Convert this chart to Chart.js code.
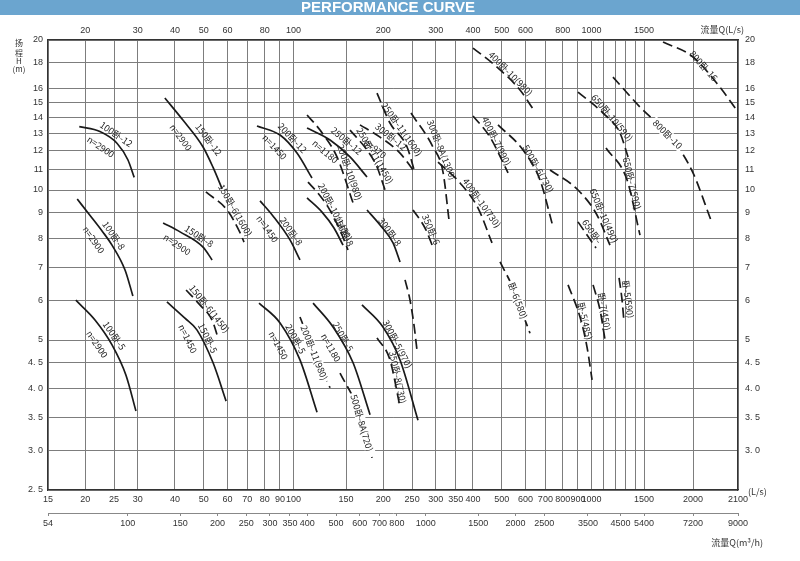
<!DOCTYPE html>
<html>
<head>
<meta charset="utf-8">
<script src="https://cdn.jsdelivr.net/npm/chart.js@4/dist/chart.umd.min.js"></script>
<style>
  html, body { margin: 0; background: #fff; }
</style>
</head>
<body>
<canvas id="c" width="800" height="561"></canvas>
<script>
// 流量 Q (L/s) tick labels, extra grid lines, top labels, m3/h labels
const qTicks = [15, 20, 25, 30, 40, 50, 60, 70, 80, 90, 100, 150, 200, 250, 300, 350, 400, 500, 600, 700, 800, 900, 1000, 1500, 2000, 2100];
const qMinor = [1100, 1200, 1300, 1400];
const qTopTicks = [20, 30, 40, 50, 60, 80, 100, 200, 300, 400, 500, 600, 800, 1000, 1500];
const m3hTicks = [54, 100, 150, 200, 250, 300, 350, 400, 500, 600, 700, 800, 1000, 1500, 2000, 2500, 3500, 4500, 5400, 7200, 9000];
// 扬程 H (m)
const hTicks = [2.5, 3, 3.5, 4, 4.5, 5, 6, 7, 8, 9, 10, 11, 12, 13, 14, 15, 16, 18, 20];
const hLabels = ['2. 5', '3. 0', '3. 5', '4. 0', '4. 5', '5', '6', '7', '8', '9', '10', '11', '12', '13', '14', '15', '16', '18', '20'];

// the printed Q axis is logarithmic up to 1500 L/s and then squeezed to the right edge
const qKnots = [15, 1500, 2000, 2100];
const m3hKnots = [54, 5400, 7200, 9000];
const knotFrac = [0, 0.8638, 0.9348, 1];

// pump curves: [Q (L/s), H (m)]
const c100w12 = [[19.1, 13.4], [22.4, 13.1], [25.6, 12.4], [27.8, 11.5], [29.2, 10.6]];
const c100w8 = [[18.8, 9.59], [20.7, 8.91], [22.9, 8.24], [24.6, 7.75], [27.2, 6.91], [28.9, 6.13]];
const c100w5 = [[18.6, 6.01], [21.6, 5.48], [24.6, 4.89], [27.4, 4.25], [29.6, 3.60]];
const c150w12 = [[37.0, 15.3], [42.6, 13.8], [49.7, 12.2], [53.7, 11.1], [57.6, 10.05]];
const c150w6a = [[50.8, 9.91], [59.8, 9.12], [66.2, 8.20], [68.2, 7.86]];
const c150w8 = [[36.5, 8.59], [41.6, 8.24], [49.7, 7.68], [53.3, 7.24]];
const c150w6b = [[43.6, 6.30], [48.5, 5.88], [53.3, 5.48], [55.8, 5.05]];
const c150w5 = [[37.6, 5.96], [43.2, 5.53], [47.4, 5.24], [53.7, 4.50], [59.4, 3.77]];
const c200w12 = [[75.4, 13.44], [90.1, 12.89], [102.7, 11.86], [115.3, 10.57]];
const c200w8 = [[77.2, 9.51], [85.3, 8.87], [97.3, 7.94], [105.1, 7.24]];
const c200w5 = [[76.6, 5.93], [90.1, 5.41], [105.1, 4.56], [119.9, 3.58]];
const c250w12 = [[111.0, 13.32], [132.6, 12.60], [154.7, 11.65], [176.4, 10.62]];
const c200w10a = [[111.0, 14.14], [122.7, 13.19], [139.9, 11.65], [158.4, 9.42]];
const c200w10b = [[111.8, 10.37], [119.9, 9.91], [130.5, 9.25], [143.2, 8.31], [152.3, 7.58]];
const c250w8 = [[111.0, 9.64], [124.6, 9.03], [136.7, 8.39], [146.6, 7.75]];
const c250w11a = [[154.7, 13.19], [176.4, 12.03], [190.6, 11.12], [202.8, 10.00]];
const c300w12 = [[167.1, 13.51], [195.1, 12.77], [227.7, 11.86], [251.8, 10.97]];
const c250w11b = [[190.6, 15.65], [210.7, 13.63], [240.4, 12.20], [255.6, 10.82]];
const c300w8a = [[247.8, 14.27], [293.7, 12.20], [317.4, 10.86], [332.4, 8.71]];
const c400w10a = [[400.2, 19.27], [481.7, 17.65], [575.4, 15.87], [646.1, 14.34]];
const c400w7 = [[400.2, 14.08], [456.3, 12.77], [524.6, 10.82]];
const c500w6 = [[485.4, 13.51], [588.9, 12.03], [671.6, 10.47], [742.6, 8.43]];
const c400w10b = [[305.4, 11.38], [362.0, 10.33], [416.0, 9.20], [463.5, 7.83]];
const c650w10a = [[900.6, 15.72], [1093, 14.27], [1246, 13.01], [1326, 11.65]];
const c650w7a = [[1118, 12.14], [1316, 10.47], [1454, 8.12]];
const c800w10 = [[1180, 16.85], [1454, 14.67], [1779, 12.60], [2000, 10.82], [2039, 8.71]];
const c800w16 = [[1677, 19.82], [2000, 18.49], [2059, 16.09], [2100, 14.34]];
const c650w10b = [[725.7, 10.97], [900.6, 10.00], [1043, 8.91], [1153, 7.75]];
const c650wx = [[900.6, 8.63], [1035, 7.65]];
const c650w7b = [[1012, 6.45], [1068, 5.74], [1110, 5.00]];
const c650w5a = [[833.9, 6.45], [914.8, 5.56], [965.7, 4.84], [1004, 4.16]];
const c650w5b = [[1237, 6.66], [1266, 6.01], [1285, 5.43]];
const c350w6a = [[493.1, 7.17], [545.2, 6.36], [584.4, 5.69], [621.5, 5.16]];
const c300w5 = [[169.7, 5.88], [199.6, 5.31], [227.7, 4.56], [261.6, 3.45]];
const c350w8 = [[190.6, 5.05], [210.7, 4.56], [227.7, 3.67]];
const c250w5 = [[116.3, 5.93], [135.7, 5.31], [158.4, 4.50], [180.6, 3.54]];
const c500w8a = [[143.2, 4.29], [163.4, 3.67], [183.4, 2.90]];
const c200w11 = [[105.1, 5.56], [119.9, 4.56], [132.6, 4.01]];
const c300w8b = [[176.4, 9.12], [195.1, 8.51], [215.7, 7.83], [227.7, 7.17]];
const c350w6b = [[251.8, 9.12], [276.2, 8.39], [293.7, 7.68]];
const cTail = [[236.7, 6.60], [246.0, 6.01], [253.6, 5.36], [259.6, 4.77]];

const curves = [
  ['100卧-12', c100w12], ['100卧-8', c100w8], ['100卧-5', c100w5],
  ['150卧-12', c150w12], ['150卧-6(1600)', c150w6a], ['150卧-8', c150w8], ['150卧-6(1450)', c150w6b], ['150卧-5', c150w5],
  ['200卧-12', c200w12], ['200卧-8', c200w8], ['200卧-5', c200w5],
  ['250卧-12', c250w12], ['200卧-10(980)', c200w10a], ['200卧-10(1450)', c200w10b], ['250卧-8', c250w8],
  ['250卧-11(1450)', c250w11a], ['300卧-12', c300w12], ['250卧-11(1600)', c250w11b], ['300卧-8A(1300)', c300w8a],
  ['400卧-10(980)', c400w10a], ['400卧-7(990)', c400w7], ['500卧-6(730)', c500w6], ['400卧-10(730)', c400w10b],
  ['650卧-10(590)', c650w10a], ['650卧-7(590)', c650w7a], ['800卧-10', c800w10], ['800卧-16', c800w16],
  ['650卧-10(490)', c650w10b], ['650卧-', c650wx], ['卧-7(450)', c650w7b], ['卧-5(485)', c650w5a], ['卧-5(590)', c650w5b],
  ['卧-6(580)', c350w6a], ['300卧-5(970)', c300w5], ['350卧-8(730)', c350w8], ['250卧-5', c250w5],
  ['500卧-8A(720)', c500w8a], ['200卧-11(980)', c200w11], ['300卧-8', c300w8b], ['350卧-6', c350w6b], ['', cTail]
];
const speeds = {
  '100卧-12': 'n=2900', '100卧-8': 'n=2900', '100卧-5': 'n=2900',
  '150卧-12': 'n=2900', '150卧-8': 'n=2900', '150卧-5': 'n=1450',
  '200卧-12': 'n=1450', '200卧-8': 'n=1450', '200卧-5': 'n=1450',
  '250卧-12': 'n=1180', '250卧-5': 'n=1180', '300卧-12': 'n=970'
};
const solid = ['100卧-12', '100卧-8', '100卧-5', '150卧-12', '150卧-8', '150卧-5', '200卧-12', '200卧-8', '200卧-5',
  '250卧-12', '250卧-8', '250卧-5', '300卧-5(970)', '300卧-8'];

// where each label sits: fraction along the curve, offset across it (px)
const namePos = {
  '100卧-12': [.45, -7], '100卧-8': [.45, -7], '100卧-5': [.4, -7], '150卧-12': [.55, -9], '150卧-6(1600)': [.5, -7],
  '150卧-8': [.6, -7], '150卧-6(1450)': [.5, -5], '150卧-5': [.45, -6], '200卧-12': [.45, -7], '200卧-8': [.6, -6],
  '200卧-5': [.4, -6], '250卧-12': [.5, -10], '200卧-10(980)': [.7, -7], '200卧-10(1450)': [.5, -4], '250卧-8': [.8, -7],
  '250卧-11(1450)': [.5, -4], '300卧-12': [.45, -7], '250卧-11(1600)': [.5, -6], '300卧-8A(1300)': [.4, -7],
  '400卧-10(980)': [.5, -5], '400卧-7(990)': [.5, -4], '500卧-6(730)': [.5, -4], '400卧-10(730)': [.6, -6],
  '650卧-10(590)': [.5, -4], '650卧-7(590)': [.45, -4], '800卧-10': [.45, 0], '800卧-16': [.45, -2],
  '650卧-10(490)': [.7, -6], '650卧-': [.5, -6], '卧-7(450)': [.5, -4], '卧-5(485)': [.4, -4], '卧-5(590)': [.5, -6],
  '卧-6(580)': [.55, 0], '300卧-5(970)': [.4, -5], '350卧-8(730)': [.6, -4], '250卧-5': [.35, -4],
  '500卧-8A(720)': [.6, 0], '200卧-11(980)': [.5, 0], '300卧-8': [.5, -4], '350卧-6': [.6, -5]
};

const warpKnots = { x: qKnots, xTop: qKnots, x2: m3hKnots };

class WarpLogScale extends Chart.LogarithmicScale {
  static id = 'warplog';
  toDecimal(v) {
    const k = warpKnots[this.id];
    const lv = Math.log10(v);
    let i = 1;
    while (i < k.length - 1 && v > k[i]) i++;
    const a = Math.log10(k[i - 1]), b = Math.log10(k[i]);
    return knotFrac[i - 1] + (lv - a) / (b - a) * (knotFrac[i] - knotFrac[i - 1]);
  }
  getPixelForValue(value) {
    if (value === null || value === undefined || isNaN(value) || value <= 0) return NaN;
    return this.getPixelForDecimal(this.toDecimal(value));
  }
  getValueForPixel(pixel) {
    const d = this.getDecimalForPixel(pixel);
    const k = warpKnots[this.id];
    let i = 1;
    while (i < k.length - 1 && d > knotFrac[i]) i++;
    const a = Math.log10(k[i - 1]), b = Math.log10(k[i]);
    return Math.pow(10, a + (d - knotFrac[i - 1]) / (knotFrac[i] - knotFrac[i - 1]) * (b - a));
  }
}
Chart.register(WarpLogScale);

const tickFont = { size: 9, family: 'Liberation Sans' };
const gridGrey = '#7d7d7d';

const curveLabels = {
  id: 'curveLabels',
  afterDatasetsDraw(chart) {
    const ctx = chart.ctx, xs = chart.scales.x, ys = chart.scales.y;
    ctx.save();
    ctx.font = '9px "Noto Sans CJK SC"';
    ctx.textAlign = 'center';
    ctx.textBaseline = 'middle';
    curves.forEach(([name, pts]) => {
      const px = pts.map(p => [xs.getPixelForValue(p[0]), ys.getPixelForValue(p[1])]);
      const seg = [];
      let total = 0;
      for (let i = 1; i < px.length; i++) {
        const l = Math.hypot(px[i][0] - px[i - 1][0], px[i][1] - px[i - 1][1]);
        seg.push(l); total += l;
      }
      const put = (text, t, off) => {
        let d = t * total, i = 0;
        while (i < seg.length - 1 && d > seg[i]) { d -= seg[i]; i++; }
        const f = d / seg[i];
        const x = px[i][0] + (px[i + 1][0] - px[i][0]) * f;
        const y = px[i][1] + (px[i + 1][1] - px[i][1]) * f;
        const ang = Math.atan2(px[i + 1][1] - px[i][1], px[i + 1][0] - px[i][0]);
        ctx.save();
        ctx.translate(x - Math.sin(ang) * off, y + Math.cos(ang) * off);
        ctx.rotate(ang);
        if (off === 0) {
          const w = ctx.measureText(text).width + 4;
          ctx.fillStyle = '#fff';
          ctx.fillRect(-w / 2, -5, w, 10);
        }
        ctx.fillStyle = '#222';
        ctx.fillText(text, 0, 0);
        ctx.restore();
      };
      if (namePos[name]) put(name, namePos[name][0], namePos[name][1]);
      if (speeds[name]) put(speeds[name], 0.38, 12);
    });
    ctx.restore();
  }
};

const frameText = {
  id: 'frameText',
  afterDraw(chart) {
    const ctx = chart.ctx, area = chart.chartArea;
    ctx.save();
    ctx.fillStyle = '#6ba5cf';
    ctx.fillRect(0, 0, chart.width, 15);
    ctx.fillStyle = '#fff';
    ctx.font = 'bold 15px "Liberation Sans"';
    ctx.textAlign = 'center';
    ctx.textBaseline = 'middle';
    ctx.fillText('PERFORMANCE CURVE', 388, 8);

    ctx.fillStyle = '#333';
    ctx.font = '8px "Noto Sans CJK SC"';
    ctx.fillText('扬', 19, 43);
    ctx.fillText('程', 19, 53);
    ctx.fillText('H', 19, 61);
    ctx.fillText('(m)', 19, 69);

    ctx.font = '9px "Noto Sans CJK SC"';
    ctx.textAlign = 'right';
    ctx.fillText('流量Q(L/s)', area.right + 6, area.top - 10);
    ctx.fillText('流量Q(m³/h)', area.right + 25, area.bottom + 53);
    ctx.textAlign = 'left';
    ctx.fillText('(L/s)', area.right + 10, area.bottom + 2);
    ctx.restore();
  }
};

new Chart(document.getElementById('c'), {
  type: 'line',
  data: {
    datasets: curves.map(([name, pts]) => ({
      label: name,
      data: pts.map(p => ({ x: p[0], y: p[1] })),
      borderColor: '#1a1a1a',
      borderWidth: 1.7,
      borderDash: solid.includes(name) ? [] : [10, 5],
      pointRadius: 0,
      cubicInterpolationMode: 'monotone',
      fill: false,
      xAxisID: 'x',
      yAxisID: 'y'
    }))
  },
  options: {
    responsive: false,
    animation: false,
    devicePixelRatio: 1,
    layout: { padding: 0, autoPadding: false },
    plugins: { legend: { display: false }, tooltip: { enabled: false } },
    scales: {
      x: {
        type: 'warplog', position: 'bottom', weight: 0, min: 15, max: 2100,
        afterBuildTicks: s => { s.ticks = qTicks.concat(qMinor).sort((a, b) => a - b).map(v => ({ value: v })); },
        afterFit: s => { s.height = 23; },
        ticks: { autoSkip: false, maxRotation: 0, padding: 4, color: '#333', font: tickFont,
          callback: v => qTicks.includes(v) ? String(v) : '' },
        grid: { color: gridGrey, lineWidth: 1, drawTicks: false },
        border: { color: '#333', width: 1.2 }
      },
      x2: {
        type: 'warplog', position: 'bottom', weight: 1, min: 54, max: 9000,
        afterBuildTicks: s => { s.ticks = m3hTicks.map(v => ({ value: v })); },
        afterFit: s => { s.height = 48; },
        ticks: { autoSkip: false, maxRotation: 0, padding: 2, color: '#333', font: tickFont, callback: v => String(v) },
        grid: { drawOnChartArea: false, drawTicks: true, tickLength: 3, color: '#888' },
        border: { color: '#888', width: 1 }
      },
      xTop: {
        type: 'warplog', position: 'top', min: 15, max: 2100,
        afterBuildTicks: s => { s.ticks = qTopTicks.map(v => ({ value: v })); },
        afterFit: s => { s.height = 40; },
        ticks: { autoSkip: false, maxRotation: 0, padding: 4, color: '#333', font: tickFont, callback: v => String(v) },
        grid: { drawOnChartArea: false, drawTicks: false },
        border: { color: '#333', width: 1.2 }
      },
      y: {
        type: 'logarithmic', position: 'left', min: 2.5, max: 20,
        afterBuildTicks: s => { s.ticks = hTicks.map(v => ({ value: v })); },
        afterFit: s => { s.width = 48; },
        ticks: { autoSkip: false, padding: 5, color: '#333', font: tickFont,
          callback: v => hLabels[hTicks.indexOf(v)] },
        grid: { color: gridGrey, lineWidth: 1, drawTicks: false },
        border: { color: '#333', width: 1.2 }
      },
      yR: {
        type: 'logarithmic', position: 'right', min: 2.5, max: 20,
        afterBuildTicks: s => { s.ticks = hTicks.map(v => ({ value: v })); },
        afterFit: s => { s.width = 62; },
        ticks: { autoSkip: false, padding: 7, color: '#333', font: tickFont,
          callback: v => v === 2.5 ? '' : hLabels[hTicks.indexOf(v)] },
        grid: { drawOnChartArea: false, drawTicks: false },
        border: { color: '#333', width: 1.2 }
      }
    }
  },
  plugins: [frameText, curveLabels]
});
</script>
</body>
</html>
